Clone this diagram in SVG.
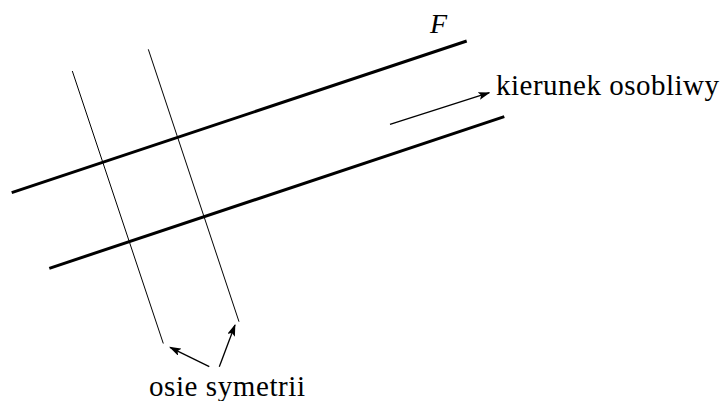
<svg xmlns="http://www.w3.org/2000/svg" width="723" height="401" viewBox="0 0 723 401">
<style>
.thick{stroke:#000;stroke-width:3;fill:none;stroke-linecap:butt}
.thin{stroke:#000;stroke-width:1;fill:none}
.arr{stroke:#000;stroke-width:1.3;fill:none;marker-end:url(#ah)}
</style>
<defs>
<marker id="ah" markerUnits="userSpaceOnUse" viewBox="0 0 12 8" refX="11" refY="4" markerWidth="12" markerHeight="8" orient="auto">
<path d="M0,0 L12,4 L0,8 L2.5,4 Z" fill="#000"/>
</marker>
</defs>
<g id="F-upper"><line class="thick" x1="11.7" y1="192.7" x2="466.7" y2="41"/></g>
<g id="F-lower"><line class="thick" x1="49.3" y1="268.3" x2="504.3" y2="116.7"/></g>
<g id="axis-1"><line class="thin" x1="72.3" y1="71" x2="163.3" y2="343.5"/></g>
<g id="axis-2"><line class="thin" x1="148.3" y1="49.3" x2="239" y2="321.7"/></g>
<g id="label-F"><text font-family="Liberation Serif, serif" font-size="28" x="430" y="33" font-style="italic">F</text></g>
<g id="label-kierunek"><text font-family="Liberation Serif, serif" font-size="29" x="496" y="94.5" textLength="223" lengthAdjust="spacing">kierunek osobliwy</text></g>
<g id="label-osie"><text font-family="Liberation Serif, serif" font-size="29" x="149" y="396" textLength="156" lengthAdjust="spacing">osie symetrii</text></g>
<g id="connectors">
<line class="arr" x1="390" y1="124.3" x2="489.3" y2="92.7"/>
<line class="arr" x1="209.3" y1="366.7" x2="170" y2="347.3"/>
<line class="arr" x1="219.3" y1="366.7" x2="235" y2="325"/>
</g>
</svg>
